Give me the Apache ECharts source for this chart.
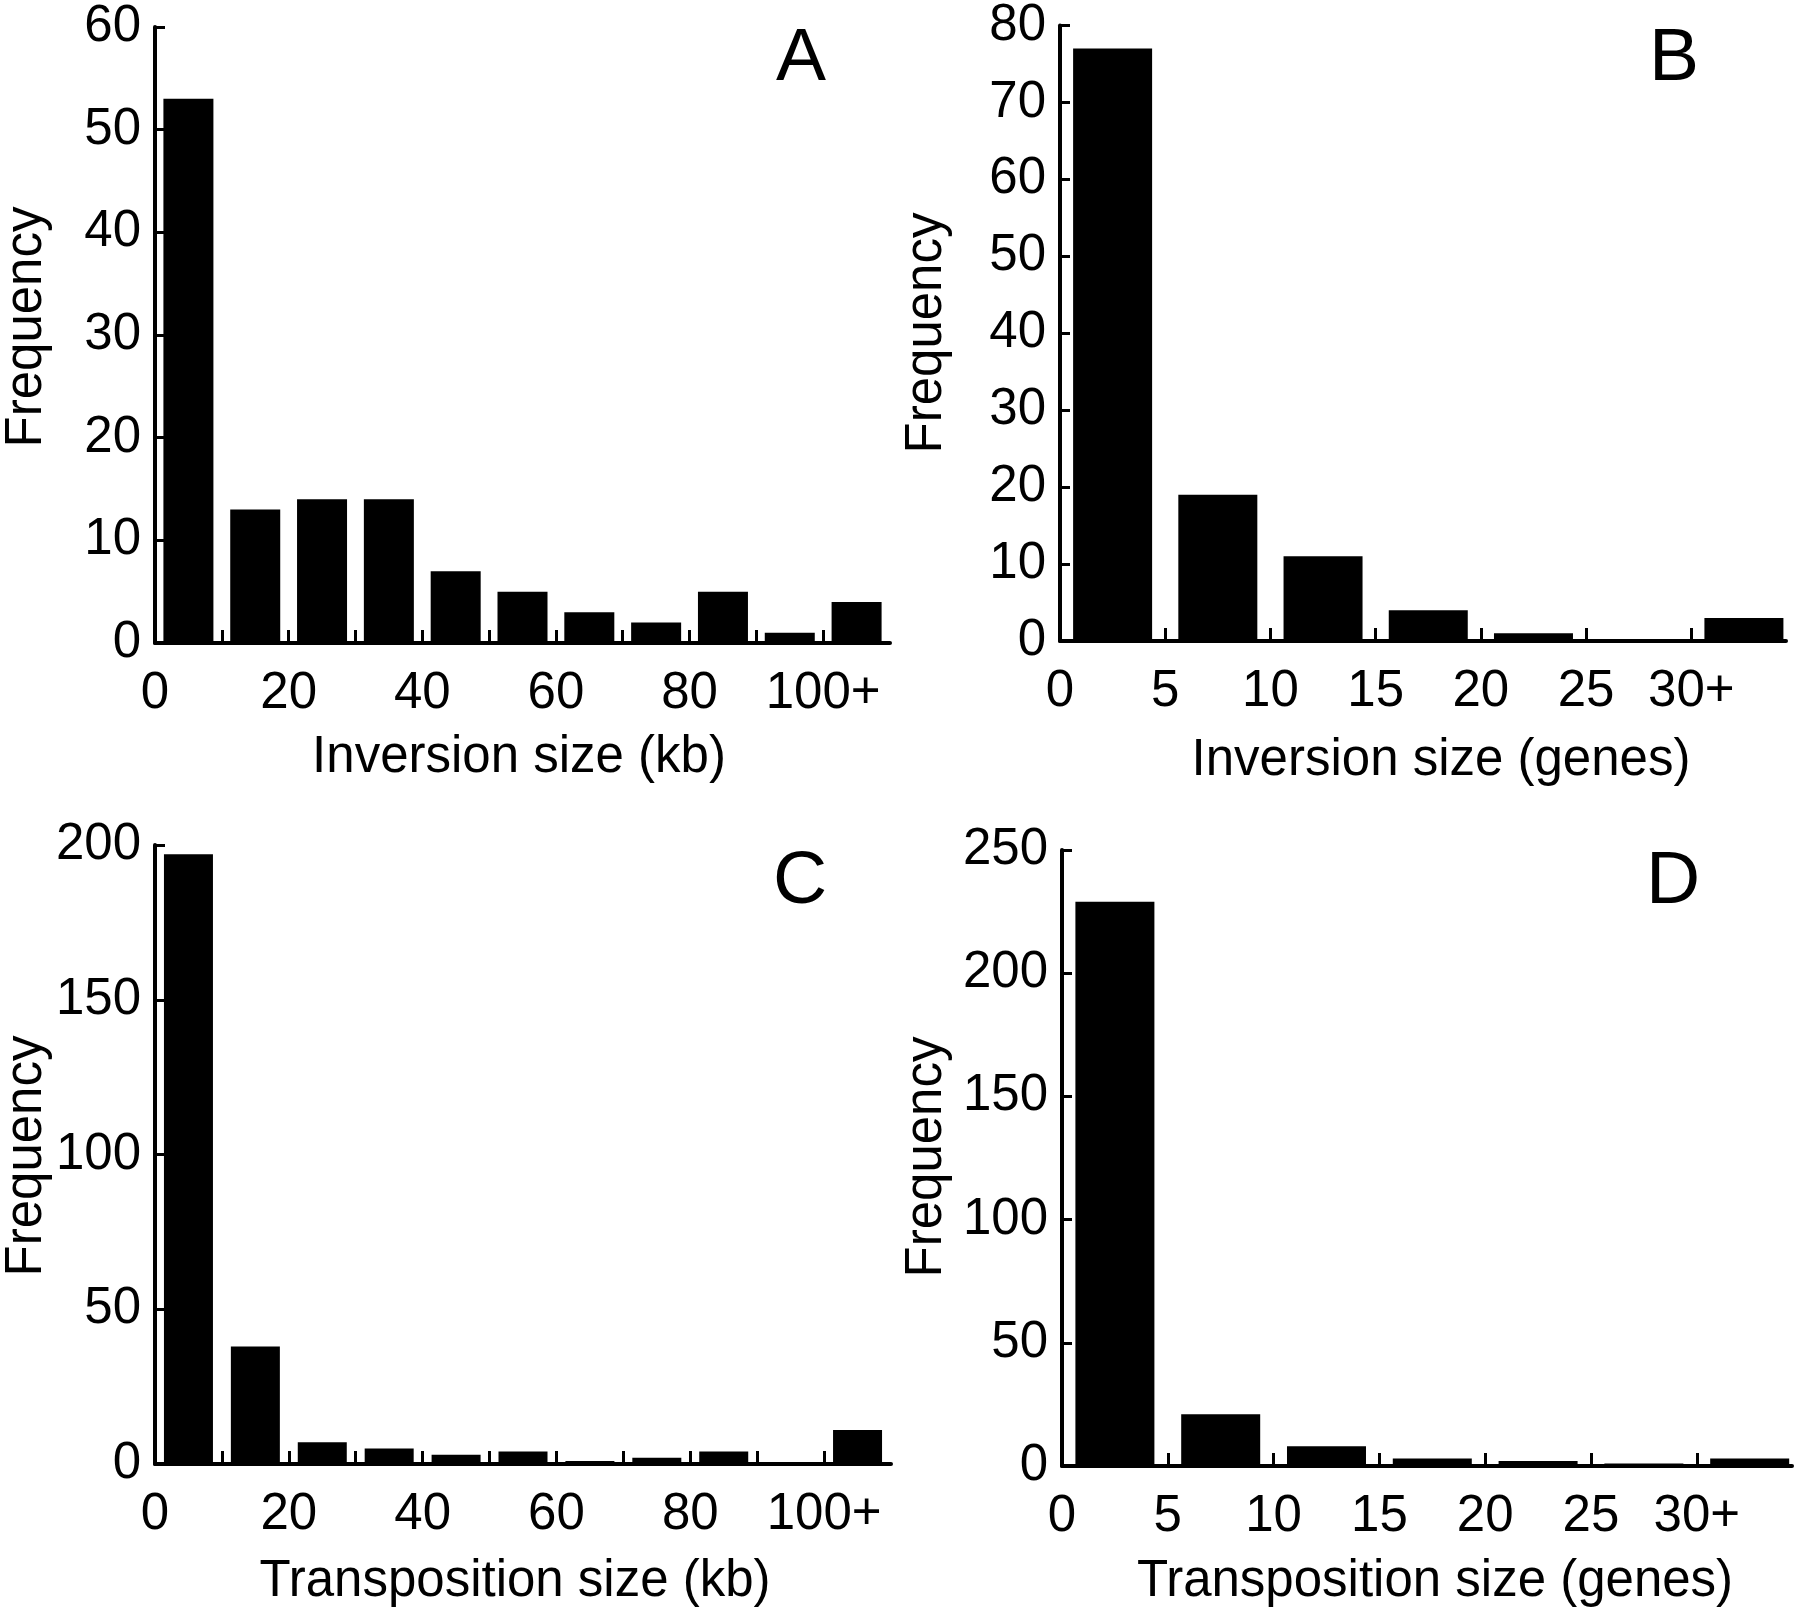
<!DOCTYPE html>
<html>
<head>
<meta charset="utf-8">
<script src="https://cdn.jsdelivr.net/npm/echarts@6/dist/echarts.min.js"></script>
<style>
html,body{margin:0;padding:0;background:#fff;}
#chart{width:1800px;height:1612px;}
</style>
</head>
<body>
<div id="chart"></div>
<script>
// Panel A: inversion size (kb), bins of 10 kb, last bin = 100+
const binStartsKb = [0,10,20,30,40,50,60,70,80,90,100];
const inversionKbFreq = [53,13,14,14,7,5,3,2,5,1,4];
// Panel B: inversion size (genes), bins of 5 genes, last bin = 30+
const binStartsGenes = [0,5,10,15,20,25,30];
const inversionGenesFreq = [77,19,11,4,1,0,3];
// Panel C: transposition size (kb)
const transpositionKbFreq = [197,38,7,5,3,4,1,2,4,0,11];
// Panel D: transposition size (genes)
const transpositionGenesFreq = [229,21,8,3,2,1,3];

const kbTickLabels = [0,20,40,60,80,100];
const genesTickLabels = [0,5,10,15,20,25,30];
const kbTicks = [0,10,20,30,40,50,60,70,80,90,100];
const genesTicks = [0,5,10,15,20,25,30];

const yTicksA = [0,10,20,30,40,50,60];
const yTicksB = [0,10,20,30,40,50,60,70,80];
const yTicksC = [0,50,100,150,200];
const yTicksD = [0,50,100,150,200,250];

const FONT = '"Liberation Sans", Arial, Helvetica, sans-serif';
const chart = echarts.init(document.getElementById('chart'));

function toPairs(starts, vals, w){ return starts.map((s,i)=>[s + w/2, vals[i]]); }

function xAxisDef(gi, max, ticks, labels, lastLabel){
  return {
    type:'value', gridIndex:gi, min:0, max:max, interval: ticks[1]-ticks[0],
    splitLine:{show:false},
    axisLine:{show:true, onZero:false, lineStyle:{color:'#000', width:4}},
    axisTick:{show:true, inside:true, length:13, customValues:ticks, lineStyle:{color:'#000', width:3}},
    axisLabel:{show:true, customValues:labels, margin:25, color:'#000', fontSize:51, fontFamily:FONT,
      formatter:(v)=> v===lastLabel ? v+'+' : String(v)}
  };
}
function yAxisDef(gi, ticks){
  const step = ticks[1]-ticks[0];
  return {
    type:'value', gridIndex:gi, min:0, max:ticks[ticks.length-1], interval:step,
    splitLine:{show:false},
    axisLine:{show:true, lineStyle:{color:'#000', width:4}},
    axisTick:{show:true, inside:true, length:10, lineStyle:{color:'#000', width:3}},
    axisLabel:{show:true, margin:14, color:'#000', fontSize:51, fontFamily:FONT}
  };
}
function barSeries(gi, data, bw){
  return {type:'bar', xAxisIndex:gi, yAxisIndex:gi, data:data, barWidth:bw,
    itemStyle:{color:'#000'}, silent:true, animation:false};
}
function txt(text, x, y, size, rot){
  return {type:'text', x:x, y:y, rotation: rot||0,
    style:{text:text, font: size+'px '+FONT, fill:'#000', textAlign:'center', textVerticalAlign:'middle'}};
}

chart.setOption({
  animation:false,
  grid:[
    {left:155, top:27, width:735, height:616},
    {left:1060, top:25, width:726, height:616},
    {left:155, top:845, width:736, height:619},
    {left:1062, top:850, width:730, height:616}
  ],
  xAxis:[
    xAxisDef(0, 110, kbTicks, kbTickLabels, 100),
    xAxisDef(1, 34.5, genesTicks, genesTickLabels, 30),
    xAxisDef(2, 110, kbTicks, kbTickLabels, 100),
    xAxisDef(3, 34.5, genesTicks, genesTickLabels, 30)
  ],
  yAxis:[ yAxisDef(0,yTicksA), yAxisDef(1,yTicksB), yAxisDef(2,yTicksC), yAxisDef(3,yTicksD) ],
  series:[
    barSeries(0, toPairs(binStartsKb, inversionKbFreq, 10), 50),
    barSeries(1, toPairs(binStartsGenes, inversionGenesFreq, 5), 79),
    barSeries(2, toPairs(binStartsKb, transpositionKbFreq, 10), 49),
    barSeries(3, toPairs(binStartsGenes, transpositionGenesFreq, 5), 79)
  ],
  graphic:[
    txt('A', 801, 59, 75), txt('B', 1674, 59, 75), txt('C', 800, 882, 75), txt('D', 1673, 882, 75),
    txt('Frequency', 27, 327, 51, Math.PI/2),
    txt('Frequency', 927, 333, 51, Math.PI/2),
    txt('Frequency', 27, 1156, 51, Math.PI/2),
    txt('Frequency', 927, 1157, 51, Math.PI/2),
    txt('Inversion size (kb)', 519, 758, 51),
    txt('Inversion size (genes)', 1441, 761, 51),
    txt('Transposition size (kb)', 515, 1582, 51),
    txt('Transposition size (genes)', 1435, 1582, 51)
  ]
});
</script>
</body>
</html>
